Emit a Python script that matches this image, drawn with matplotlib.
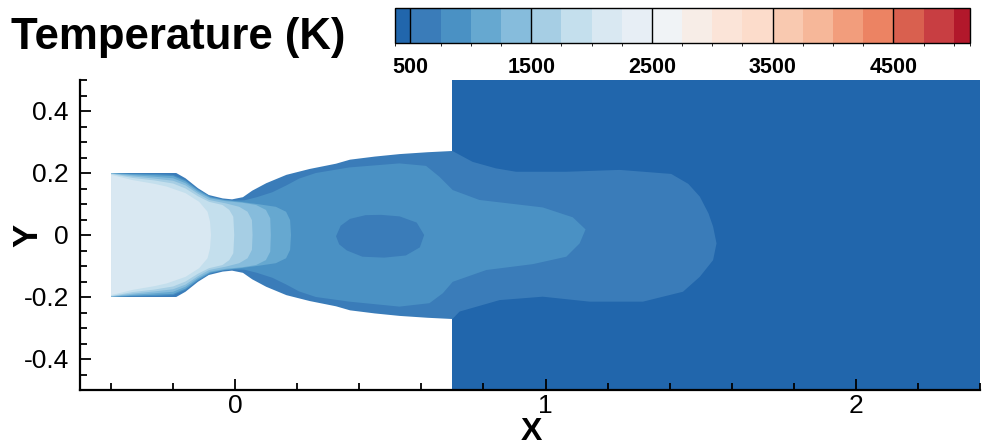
import numpy as np
import matplotlib
matplotlib.use('Agg')
import matplotlib.pyplot as plt
from matplotlib.colors import ListedColormap, BoundaryNorm
from matplotlib.collections import PolyCollection
from matplotlib.ticker import MultipleLocator, FixedLocator, FixedFormatter
import matplotlib.cm as cm

plt.rcParams['font.family'] = ['Liberation Sans', 'DejaVu Sans']

# contour levels of the temperature field (K)
levels = [372, 500, 750, 1000, 1250, 1500, 1750, 2000, 2250, 2500, 2750,
          3000, 3250, 3500, 3750, 4000, 4250, 4500, 4750, 5000, 5135]
cbar_ticks = [500, 1500, 2500, 3500, 4500]
level_colors = ['#2166ac', '#3a7cb9', '#4a91c4', '#66a8d0', '#86bcdc',
                '#a6cee4', '#c4dfed', '#d9e8f2', '#e7eef5', '#f0f3f6',
                '#f7ede7', '#fbe4d8', '#fcdccb', '#f9c9b0', '#f6b799',
                '#f29d7c', '#ec8363', '#d9604f', '#c83e42', '#b2182b']

# far field block behind the nozzle exit
farfield_x = [0.70, 2.40]
farfield_y = [-0.50, 0.50]
farfield_T = 440

# upper nozzle wall / jet edge (mirrored for the lower half)
wall_x = [-0.40, -0.19, -0.16, -0.12, -0.085, -0.04, -0.01, 0.025, 0.055,
          0.10, 0.165, 0.24, 0.325, 0.37, 0.45, 0.53, 0.62, 0.70]
wall_y = [0.200, 0.200, 0.183, 0.151, 0.129, 0.118, 0.115, 0.122, 0.143,
          0.167, 0.194, 0.213, 0.230, 0.243, 0.253, 0.261, 0.267, 0.271]

# 500-750 K contour in the far field block (top to bottom)
jet_x = [0.765, 0.84, 0.905, 1.067, 1.239, 1.405, 1.46, 1.497, 1.525, 1.54,
         1.551, 1.54, 1.497, 1.443, 1.314, 1.142, 0.991, 0.852, 0.723]
jet_y = [0.236, 0.215, 0.204, 0.204, 0.210, 0.197, 0.165, 0.124, 0.070,
         0.027, -0.027, -0.081, -0.135, -0.183, -0.215, -0.215, -0.199,
         -0.210, -0.247]
jet_T = 625

# 750-1000 K region: nozzle part (upper, mirrored) and plume loop
core_noz_x = [-0.40, -0.26, -0.20, -0.16, -0.12, -0.08, -0.04, 0.0, 0.03,
              0.07, 0.12, 0.165, 0.206]
core_noz_y = [0.199, 0.197, 0.194, 0.177, 0.147, 0.124, 0.114, 0.111,
              0.112, 0.122, 0.138, 0.160, 0.182]
core_plume_x = [0.26, 0.368, 0.529, 0.615, 0.658, 0.701, 0.787, 0.991,
                1.088, 1.129, 1.110, 1.067, 0.959, 0.809, 0.701, 0.669,
                0.626, 0.529, 0.368, 0.26]
core_plume_y = [0.200, 0.218, 0.231, 0.223, 0.188, 0.145, 0.113, 0.089,
                0.057, 0.018, -0.027, -0.070, -0.094, -0.113, -0.151,
                -0.188, -0.220, -0.231, -0.215, -0.200]
core_T = 875

# cooler pocket inside the plume (500-750 K)
pocket_x = [0.325, 0.34, 0.37, 0.42, 0.47, 0.53, 0.585, 0.609, 0.595,
            0.55, 0.48, 0.41, 0.36, 0.335]
pocket_y = [-0.004, 0.030, 0.052, 0.064, 0.065, 0.060, 0.040, 0.000,
            -0.040, -0.066, -0.073, -0.070, -0.050, -0.030]
pocket_T = 625

# chamber / throat bands, upper half (mirrored), hottest last
band3_x = [-0.40, -0.33, -0.26, -0.20, -0.16, -0.12, -0.08, -0.03, 0.024,
           0.077, 0.131, 0.164, 0.177, 0.180]
band3_y = [0.200, 0.196, 0.193, 0.190, 0.173, 0.144, 0.121, 0.112, 0.106,
           0.099, 0.091, 0.075, 0.048, 0.0]
band4_x = [-0.40, -0.33, -0.26, -0.20, -0.16, -0.12, -0.08, -0.03, 0.024,
           0.067, 0.099, 0.113, 0.115]
band4_y = [0.199, 0.193, 0.188, 0.183, 0.167, 0.139, 0.118, 0.109, 0.104,
           0.097, 0.081, 0.054, 0.0]
band5_x = [-0.40, -0.33, -0.26, -0.20, -0.16, -0.12, -0.084, -0.03, 0.013,
           0.04, 0.054, 0.056]
band5_y = [0.198, 0.189, 0.182, 0.175, 0.160, 0.133, 0.113, 0.102, 0.091,
           0.075, 0.048, 0.0]
band6_x = [-0.40, -0.33, -0.26, -0.20, -0.16, -0.12, -0.084, -0.041,
           -0.019, -0.006, -0.003]
band6_y = [0.197, 0.184, 0.176, 0.166, 0.150, 0.125, 0.107, 0.097, 0.081,
           0.059, 0.0]
band7_x = [-0.40, -0.33, -0.26, -0.22, -0.16, -0.116, -0.089, -0.081, -0.078]
band7_y = [0.194, 0.177, 0.165, 0.156, 0.135, 0.107, 0.075, 0.043, 0.0]
band_T = [1125, 1375, 1625, 1875, 2125]


def mirror(x, y):
    # close an upper-half profile with its reflection about y = 0
    x = list(x)
    y = list(y)
    return x + x[::-1], y + [-v for v in y[::-1]]


cmap = ListedColormap(level_colors)
norm = BoundaryNorm(levels, cmap.N)

polys = []
temps = []

polys.append([(farfield_x[0], farfield_y[0]), (farfield_x[1], farfield_y[0]),
              (farfield_x[1], farfield_y[1]), (farfield_x[0], farfield_y[1])])
temps.append(farfield_T)

px = wall_x + jet_x + wall_x[::-1]
py = wall_y + jet_y + [-v for v in wall_y[::-1]]
polys.append(list(zip(px, py)))
temps.append(jet_T)

px = core_noz_x + core_plume_x + core_noz_x[::-1]
py = core_noz_y + core_plume_y + [-v for v in core_noz_y[::-1]]
polys.append(list(zip(px, py)))
temps.append(core_T)

polys.append(list(zip(pocket_x, pocket_y)))
temps.append(pocket_T)

for bx, by, bt in zip([band3_x, band4_x, band5_x, band6_x, band7_x],
                      [band3_y, band4_y, band5_y, band6_y, band7_y], band_T):
    mx, my = mirror(bx, by)
    polys.append(list(zip(mx, my)))
    temps.append(bt)

fig = plt.figure(figsize=(10.01, 4.45), dpi=100)
ax = fig.add_axes([80 / 1001, 55 / 445, 900 / 1001, 310 / 445])

pc = PolyCollection(polys, cmap=cmap, norm=norm, linewidths=0,
                    antialiaseds=True)
pc.set_array(np.array(temps))
ax.add_collection(pc)

ax.set_xlim(-0.5, 2.4)
ax.set_ylim(-0.5, 0.5)

for s in ['top', 'right']:
    ax.spines[s].set_visible(False)
for s in ['left', 'bottom']:
    ax.spines[s].set_linewidth(1.6)

ax.xaxis.set_major_locator(FixedLocator([0, 1, 2]))
ax.xaxis.set_major_formatter(FixedFormatter(['0', '1', '2']))
ax.xaxis.set_minor_locator(MultipleLocator(0.2))
ax.yaxis.set_major_locator(FixedLocator([-0.4, -0.2, 0, 0.2, 0.4]))
ax.yaxis.set_major_formatter(FixedFormatter(['-0.4', '-0.2', '0', '0.2', '0.4']))
ax.yaxis.set_minor_locator(MultipleLocator(0.05))
ax.tick_params(which='both', direction='in', width=1.3, colors='black')
ax.tick_params(which='major', length=8, labelsize=19)
ax.tick_params(axis='y', which='major', pad=8)
ax.tick_params(axis='x', which='major', pad=3)
ax.tick_params(which='minor', length=5)

fig.text(28 / 1001, 1 - 235 / 445, 'Y', rotation=90, ha='center',
         va='center', fontsize=25, fontweight='bold')
fig.text(531 / 1001, 1 - 432 / 445, 'X', ha='center', va='center',
         fontsize=23, fontweight='bold')

fig.text(11 / 1001, 1 - 49 / 445, 'Temperature (K)', ha='left',
         va='baseline', fontsize=31.5, fontweight='bold')

cax = fig.add_axes([395 / 1001, 1 - 43 / 445, 575 / 1001, 35 / 445])
sm = cm.ScalarMappable(norm=norm, cmap=cmap)
cb = fig.colorbar(sm, cax=cax, orientation='horizontal',
                  spacing='proportional', ticks=cbar_ticks)
cb.outline.set_linewidth(1)
cb.ax.tick_params(length=0, labelsize=15.5, pad=10)
for lab in cb.ax.get_xticklabels():
    lab.set_fontweight('bold')
for t in cbar_ticks:
    cax.axvline(t, color='black', lw=1)

fig.savefig('out.png', dpi=100)
